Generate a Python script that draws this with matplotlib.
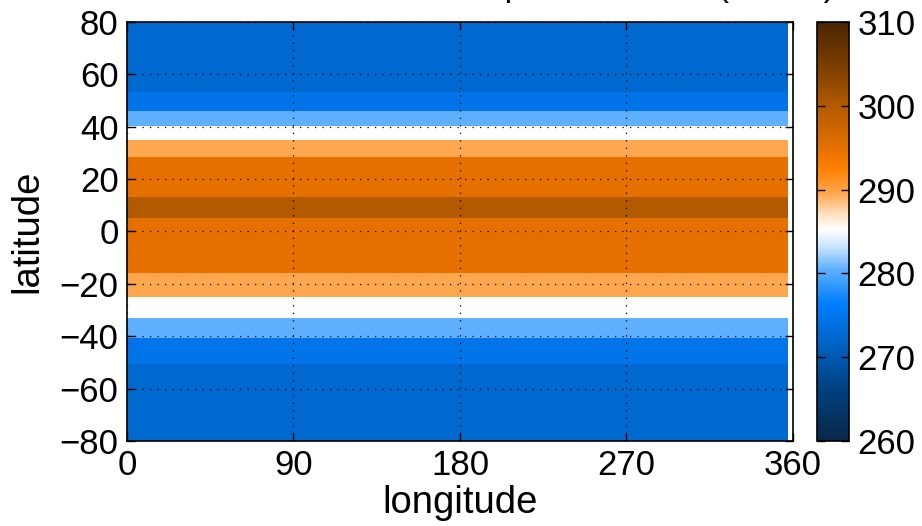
import matplotlib
matplotlib.use("Agg")
import matplotlib.pyplot as plt
import numpy as np
from matplotlib.colors import LinearSegmentedColormap

plt.rcParams['font.family'] = ['Liberation Sans', 'DejaVu Sans']
plt.rcParams['font.size'] = 25

# band edges in latitude (deg) and temperature of each band (K)
lat_edges = [-80, -50.6, -40.8, -33.1, -25.1, -15.7, 5.3, 13.3, 28.3, 35.0, 40.4, 46.0, 53.2, 80]
temps = [272.5, 274.5, 280.5, 285.2, 289.5, 295.0, 300.0, 295.0, 289.5, 285.2, 280.5, 274.5, 272.5]
lon_edges = [0, 357.5]

x_ticks = [0, 90, 180, 270, 360]
y_ticks = [-80, -60, -40, -20, 0, 20, 40, 60, 80]
cb_ticks = [260, 270, 280, 290, 300, 310]

title = 'Idealized initial surface temperature field (Kelvin)'

# blue - white - orange colormap, 260..310 K
vmin, vmax = 260, 310
cmap_pts = [
    (260, '#0a2748'),
    (266, '#00407f'),
    (270, '#0058b0'),
    (272.5, '#0069d0'),
    (274.5, '#0074e8'),
    (276.5, '#0080ff'),
    (280.5, '#60b0ff'),
    (283, '#c4e0ff'),
    (285.2, '#ffffff'),
    (287, '#ffe2c4'),
    (289.5, '#ffa850'),
    (292.5, '#ff8000'),
    (295, '#e57000'),
    (300, '#b35a00'),
    (305, '#7a3d00'),
    (310, '#4a2500'),
]
cmap = LinearSegmentedColormap.from_list(
    'bwo', [((v - vmin) / (vmax - vmin), c) for v, c in cmap_pts], N=512)

fig = plt.figure(figsize=(9.22, 5.26), dpi=100)
ax = fig.add_axes([0.1377, 0.1616, 0.7223, 0.7966])
cax = fig.add_axes([0.8865, 0.1616, 0.0347, 0.7966])

C = np.array(temps).reshape(-1, 1)
mesh = ax.pcolormesh(lon_edges, lat_edges, C, cmap=cmap, vmin=vmin, vmax=vmax,
                     shading='flat')

ax.set_xlim(0, 360)
ax.set_ylim(-80, 80)
ax.set_xticks(x_ticks)
ax.set_yticks(y_ticks)
ax.tick_params(direction='in', top=True, right=True, length=6, width=1, pad=6)
ax.grid(True, color='black', linestyle=(0, (1, 5)), linewidth=0.9)
ax.set_axisbelow(False)
for s in ax.spines.values():
    s.set_linewidth(1.2)
ax.set_xlabel('longitude', fontsize=27.5, labelpad=2)
ax.set_ylabel('latitude', fontsize=27.5, labelpad=10)

cb = fig.colorbar(mesh, cax=cax, ticks=cb_ticks)
cb.outline.set_linewidth(1.2)
cax.tick_params(direction='in', left=True, right=True, length=6, width=1, pad=6)

fig.text(0.499, 1.0076, title, ha='center', va='baseline', fontsize=25)

fig.savefig('out.png', dpi=100)
